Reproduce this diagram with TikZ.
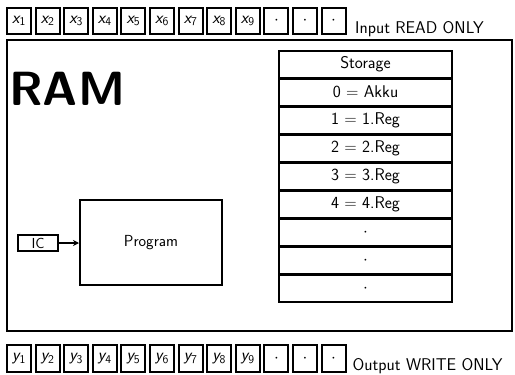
\documentclass[tikz,border=0pt]{standalone}
\usepackage{fontspec}
\usetikzlibrary{arrows.meta}
\begin{document}
\begin{tikzpicture}[x=1pt,y=-1pt,
  every node/.style={font=\sffamily\fontsize{17}{20}\selectfont},
  cell/.style={draw, line width=2pt, minimum width=24pt, minimum height=26.5pt, inner sep=0pt},
  reg/.style={draw, line width=2pt, minimum width=173pt, minimum height=27.1pt, inner sep=0pt},
  frame/.style={draw, line width=2pt},
  box/.style={draw, line width=2pt, inner sep=0pt},
  lbl/.style={anchor=base west, inner sep=0pt},
]
\useasboundingbox (0,0) rectangle (515,375);
% input / output tapes
\foreach \i in {1,...,12} {
  \pgfmathsetmacro\cx{19+(\i-1)*28.6}
  \node[cell] (in\i) at (\cx,21) {\ifnum\i<10 {\itshape x}\textsubscript{\i}\else$\cdot$\fi};
  \node[cell] (out\i) at (\cx,358.5) {\ifnum\i<10 {\itshape y}\textsubscript{\i}\else$\cdot$\fi};
}
\node[lbl] (inlbl) at (355,33.5) {Input READ ONLY};
\node[lbl] (outlbl) at (352.5,370.5) {Output WRITE ONLY};
% RAM frame
\draw[frame] (7,40) rectangle (512,331);
\node[anchor=base west, inner sep=0pt, font=\sffamily\bfseries\fontsize{48}{52}\selectfont] (ramlbl) at (9,105) {RAM};
% storage
\foreach \t [count=\k from 0] in {Storage,0 = Akku,1 = 1.Reg,2 = 2.Reg,3 = 3.Reg,4 = 4.Reg,$\cdot$,$\cdot$,$\cdot$} {
  \pgfmathsetmacro\cy{64.05+\k*28.1}
  \node[reg] (r\k) at (365.5,\cy) {\t};
}
% program
\node[box, minimum width=142pt, minimum height=85pt, font=\sffamily\fontsize{16}{19}\selectfont] (prog) at (151,242.5) {Program};
\node[box, minimum width=40pt, minimum height=15.5pt, font=\sffamily\fontsize{14.5}{17}\selectfont] (ic) at (38,243) {IC};
\draw[line width=1.5pt, -{Stealth[length=6pt,width=6pt]}] (ic.east) -- (ic.east -| prog.west);
\end{tikzpicture}
\end{document}
